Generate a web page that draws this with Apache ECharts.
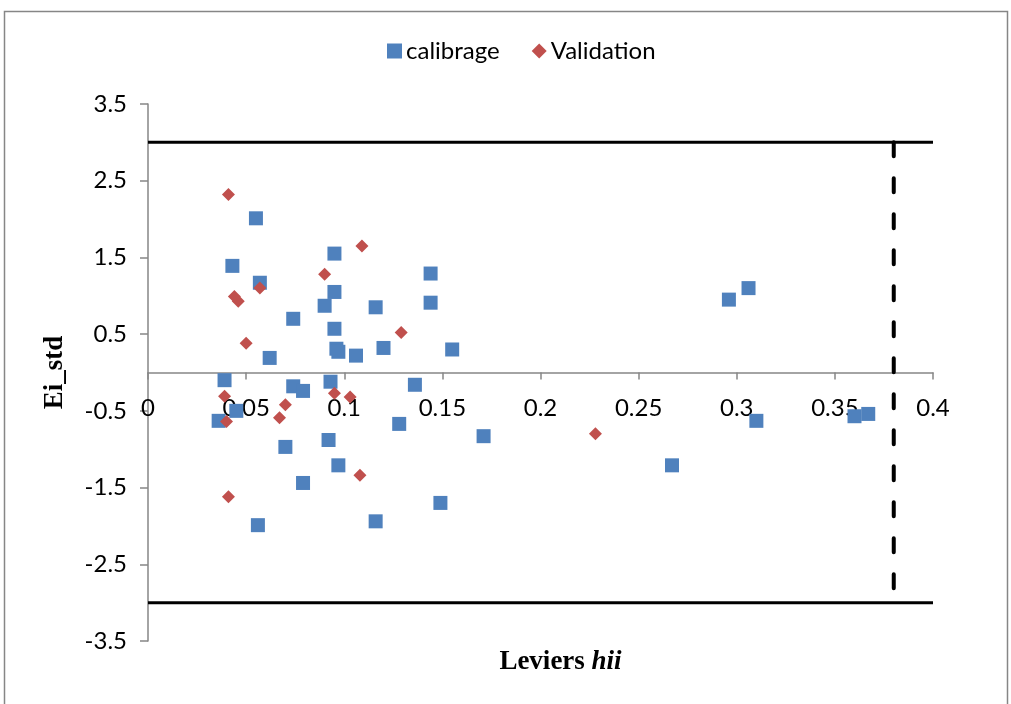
<!DOCTYPE html>
<html>
<head>
<meta charset="utf-8">
<script src="https://cdn.jsdelivr.net/npm/echarts@6/dist/echarts.min.js"></script>
<style>
  html, body { margin: 0; padding: 0; background: #fff; }
  #chart { width: 1011px; height: 704px; }
</style>
</head>
<body>
<div id="chart"></div>
<script>
// Williams plot: standardized residuals vs leverage
const calibrageX = [0.055, 0.043, 0.057, 0.095, 0.095, 0.090, 0.074, 0.095, 0.096, 0.097,
  0.106, 0.062, 0.116, 0.120, 0.144, 0.144, 0.155, 0.136, 0.128, 0.171,
  0.149, 0.039, 0.074, 0.079, 0.093, 0.045, 0.036, 0.070, 0.092, 0.097,
  0.079, 0.056, 0.116, 0.296, 0.306, 0.310, 0.267, 0.360, 0.367];
const calibrageY = [2.01, 1.39, 1.17, 1.55, 1.05, 0.87, 0.70, 0.57, 0.31, 0.27,
  0.22, 0.19, 0.85, 0.32, 1.29, 0.91, 0.30, -0.16, -0.67, -0.83,
  -1.70, -0.10, -0.18, -0.24, -0.12, -0.50, -0.63, -0.97, -0.88, -1.21,
  -1.44, -1.99, -1.94, 0.95, 1.10, -0.63, -1.21, -0.57, -0.54];

const validationX = [0.041, 0.109, 0.090, 0.057, 0.044, 0.046, 0.050, 0.129, 0.228,
  0.039, 0.040, 0.070, 0.067, 0.095, 0.103, 0.108, 0.041];
const validationY = [2.32, 1.65, 1.28, 1.10, 0.99, 0.93, 0.38, 0.52, -0.80,
  -0.31, -0.64, -0.42, -0.59, -0.27, -0.32, -1.34, -1.62];

// residual limits (±3) and critical leverage h*
const residualLimit = 3;
const hStar = 0.38;

const xTicks = { min: 0, max: 0.4, interval: 0.05 };
const yTicks = { min: -3.5, max: 3.5, interval: 1 };

const zip = (xs, ys) => xs.map((x, i) => [x, ys[i]]);

const axisGray = '#868686';
const labelFont = 'Lato, "Open Sans", sans-serif';
const serif = '"Liberation Serif", "DejaVu Serif", serif';

const grid = { left: 148, right: 78, top: 104, bottom: 63 };
const plotHeight = 704 - grid.top - grid.bottom;
// shift the x axis (line, ticks and labels) up to the y = 0 level
const zeroOffset = -plotHeight * (0 - yTicks.min) / (yTicks.max - yTicks.min);

const chart = echarts.init(document.getElementById('chart'), null, { renderer: 'canvas' });

chart.setOption({
  animation: false,
  backgroundColor: '#fff',
  grid: grid,
  legend: {
    data: ['calibrage', 'Validation'],
    left: 382,
    top: 34,
    itemWidth: 15,
    itemHeight: 15,
    itemGap: 32,
    textStyle: { fontFamily: labelFont, fontSize: 24, color: '#000', padding: [0, 0, 0, -1] }
  },
  xAxis: {
    type: 'value',
    min: xTicks.min, max: xTicks.max, interval: xTicks.interval,
    offset: zeroOffset,
    splitLine: { show: false },
    axisLine: { onZero: false, lineStyle: { color: axisGray, width: 1.5 } },
    axisTick: { show: true, length: 7, lineStyle: { color: axisGray, width: 1.5 } },
    axisLabel: {
      margin: 24,
      fontFamily: labelFont, fontSize: 24, color: '#000',
      formatter: v => String(+v.toFixed(2))
    }
  },
  yAxis: {
    type: 'value',
    min: yTicks.min, max: yTicks.max, interval: yTicks.interval,
    splitLine: { show: false },
    axisLine: { show: true, lineStyle: { color: axisGray, width: 1.5 } },
    axisTick: { show: true, length: 8, lineStyle: { color: axisGray, width: 1.5 } },
    axisLabel: {
      margin: 21,
      fontFamily: labelFont, fontSize: 24, color: '#000',
      formatter: v => String(+v.toFixed(1))
    },
    name: 'Ei_std',
    nameLocation: 'middle',
    nameRotate: 90,
    nameGap: 79,
    nameTextStyle: { fontFamily: serif, fontWeight: 'bold', fontSize: 27, color: '#000' }
  },
  graphic: [
    {
      type: 'rect',
      shape: { x: 4.5, y: 11.5, width: 1003, height: 720 },
      style: { fill: 'none', stroke: axisGray, lineWidth: 1.5 },
      silent: true, z: -1
    },
    {
      type: 'text',
      style: {
        x: 560.5,
        y: 662,
        align: 'center',
        verticalAlign: 'middle',
        text: '{a|Leviers }{b|hii}',
        rich: {
          a: { fontFamily: serif, fontWeight: 'bold', fontSize: 27, fill: '#000' },
          b: { fontFamily: serif, fontWeight: 'bold', fontStyle: 'italic', fontSize: 27, fill: '#000' }
        }
      }
    }
  ],
  series: [
    {
      name: 'upper',
      type: 'line',
      data: [[xTicks.min, residualLimit], [xTicks.max, residualLimit]],
      symbol: 'none',
      lineStyle: { color: '#000', width: 3 },
      silent: true, z: 1
    },
    {
      name: 'lower',
      type: 'line',
      data: [[xTicks.min, -residualLimit], [xTicks.max, -residualLimit]],
      symbol: 'none',
      lineStyle: { color: '#000', width: 3 },
      silent: true, z: 1
    },
    {
      name: 'hstar',
      type: 'line',
      data: [[hStar, residualLimit], [hStar, -residualLimit]],
      symbol: 'none',
      lineStyle: { color: '#000', width: 4, type: [14, 22], cap: 'round' },
      silent: true, z: 1
    },
    {
      name: 'calibrage',
      type: 'scatter',
      symbol: 'rect',
      symbolSize: 14,
      itemStyle: { color: '#4F81BD', opacity: 1 },
      data: zip(calibrageX, calibrageY),
      z: 3
    },
    {
      name: 'Validation',
      type: 'scatter',
      symbol: 'diamond',
      symbolSize: 13,
      itemStyle: { color: '#C0504D', opacity: 1 },
      data: zip(validationX, validationY),
      z: 4
    }
  ]
});
</script>
</body>
</html>
